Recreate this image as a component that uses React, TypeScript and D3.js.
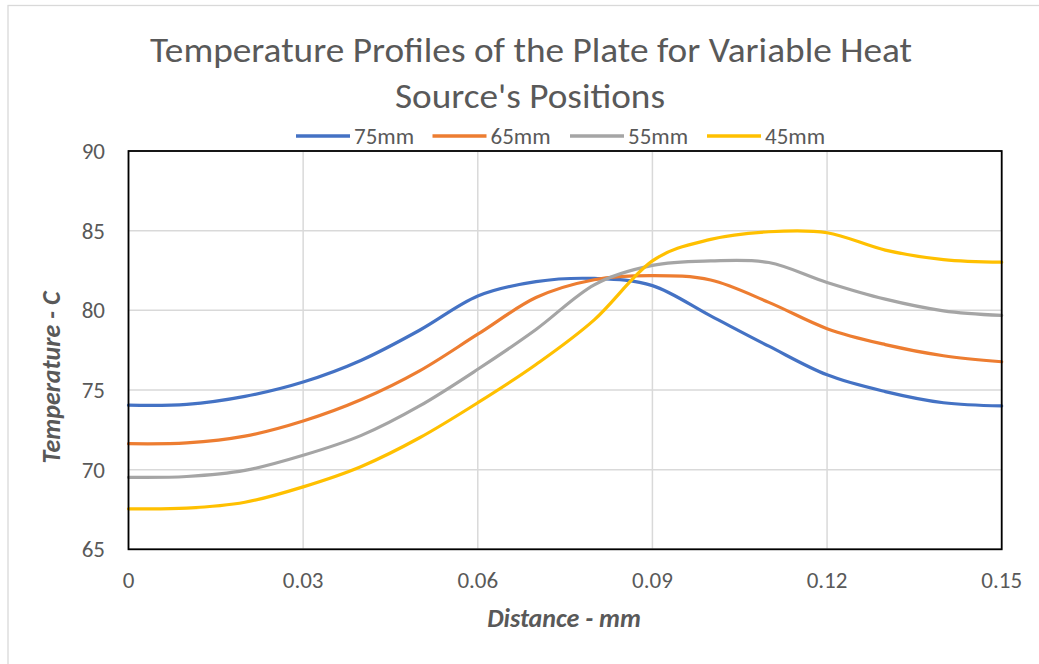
import React from "react";
import * as d3 from "d3";

const xValues = [0, 0.01, 0.02, 0.03, 0.04, 0.05, 0.06, 0.07, 0.08, 0.09, 0.1, 0.11, 0.12, 0.13, 0.14, 0.15];
const temp75mm = [74.05, 74.1, 74.6, 75.5, 76.87, 78.75, 80.9, 81.8, 82.0, 81.55, 79.65, 77.75, 75.95, 74.9, 74.2, 74.0];
const temp65mm = [71.63, 71.68, 72.1, 73.05, 74.4, 76.2, 78.5, 80.8, 81.92, 82.18, 81.9, 80.5, 78.85, 77.85, 77.15, 76.77];
const temp55mm = [69.52, 69.57, 69.95, 70.9, 72.15, 74.0, 76.3, 78.8, 81.6, 82.82, 83.1, 83.0, 81.75, 80.7, 79.97, 79.68];
const temp45mm = [67.54, 67.58, 67.95, 68.92, 70.2, 72.0, 74.2, 76.6, 79.4, 83.1, 84.45, 84.93, 84.87, 83.78, 83.18, 83.02];
const seriesNames = ["75mm", "65mm", "55mm", "45mm"];
const seriesColors = ["#4472C4", "#ED7D31", "#A5A5A5", "#FFC000"];
const xTicks = [0, 0.03, 0.06, 0.09, 0.12, 0.15];
const yTicks = [65, 70, 75, 80, 85, 90];

const FONT = "Carlito, 'Open Sans', sans-serif";
const TEXT = "#595959";

export default function App() {
  const W = 1039, H = 664;
  const left = 128.5, right = 1001.7, top = 151, bottom = 549.3;
  const x = d3.scaleLinear().domain([0, 0.15]).range([left, right]);
  const y = d3.scaleLinear().domain([65, 90]).range([bottom, top]);
  const allSeries = [temp75mm, temp65mm, temp55mm, temp45mm];
  const line = d3
    .line<number>()
    .x((_, i) => x(xValues[i]))
    .y((d) => y(d))
    .curve(d3.curveCatmullRom.alpha(0));

  const legendX = [296, 432.5, 570, 707];

  return (
    <svg width={W} height={H} style={{ position: "absolute", left: 0, top: 0, background: "#fff" }}>
      <rect x={8} y={5.5} width={1100} height={700} fill="#fff" stroke="#d9d9d9" strokeWidth={1.3} />
      <text x={531} y={62} textAnchor="middle" fontFamily={FONT} fontSize={35} fill={TEXT} textLength={762} lengthAdjust="spacingAndGlyphs">
        Temperature Profiles of the Plate for Variable Heat
      </text>
      <text x={530} y={108} textAnchor="middle" fontFamily={FONT} fontSize={35} fill={TEXT} textLength={270} lengthAdjust="spacingAndGlyphs">
        Source's Positions
      </text>
      {/* legend */}
      {seriesNames.map((n, i) => (
        <g key={n}>
          <line x1={legendX[i]} x2={legendX[i] + 54} y1={136} y2={136} stroke={seriesColors[i]} strokeWidth={3.5} />
          <text x={legendX[i] + 58} y={143.5} fontFamily={FONT} fontSize={23} fill={TEXT}>{n}</text>
        </g>
      ))}
      {/* grid */}
      {yTicks.map((t) => (
        <line key={"gy" + t} x1={left} x2={right} y1={y(t)} y2={y(t)} stroke="#d9d9d9" strokeWidth={1.5} />
      ))}
      {xTicks.map((t) => (
        <line key={"gx" + t} x1={x(t)} x2={x(t)} y1={top} y2={bottom} stroke="#d9d9d9" strokeWidth={1.5} />
      ))}
      {/* series */}
      {allSeries.map((s, i) => (
        <path key={i} d={line(s) || ""} fill="none" stroke={seriesColors[i]} strokeWidth={3.2} strokeLinecap="round" />
      ))}
      {/* plot border */}
      <rect x={left} y={top} width={right - left} height={bottom - top} fill="none" stroke="#000" strokeWidth={1.8} />
      {/* y tick labels */}
      {yTicks.map((t) => (
        <text key={"ty" + t} x={105} y={y(t) + 8} textAnchor="end" fontFamily={FONT} fontSize={23} fill={TEXT}>{t}</text>
      ))}
      {/* x tick labels */}
      {xTicks.map((t) => (
        <text key={"tx" + t} x={x(t)} y={588} textAnchor="middle" fontFamily={FONT} fontSize={23} fill={TEXT}>{String(t)}</text>
      ))}
      <text x={564} y={627} textAnchor="middle" fontFamily={FONT} fontSize={26} fontWeight="bold" fontStyle="italic" fill={TEXT}>
        Distance - mm
      </text>
      <text transform={`translate(60,377.5) rotate(-90)`} textAnchor="middle" fontFamily={FONT} fontSize={26} fontWeight="bold" fontStyle="italic" fill={TEXT}>
        Temperature - C
      </text>
    </svg>
  );
}
